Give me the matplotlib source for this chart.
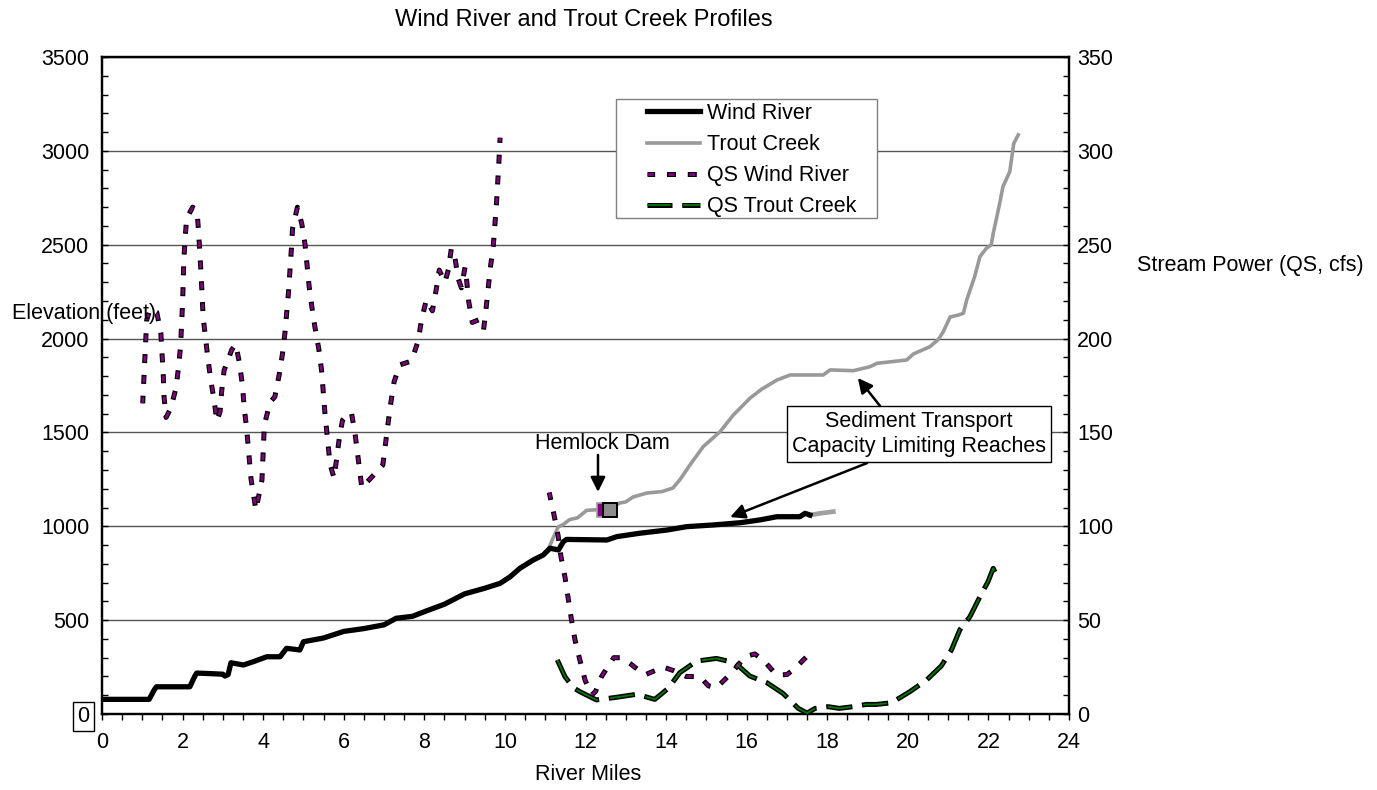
import matplotlib
matplotlib.use("Agg")
import matplotlib.pyplot as plt
from matplotlib.ticker import MultipleLocator
from matplotlib.patches import Rectangle
import numpy as np

plt.rcParams['font.family'] = ['Liberation Sans', 'DejaVu Sans']
plt.rcParams['lines.scale_dashes'] = False

# ---------------- data ----------------
wind_miles = [0, 1.17, 1.3, 1.35, 2.18, 2.3, 2.35, 2.7, 3.0, 3.05, 3.13, 3.2, 3.51, 3.76,
              4.09, 4.42, 4.58, 4.91, 5.0, 5.5, 6.0, 6.5, 7.0, 7.3, 7.7, 8.0, 8.5, 9.0,
              9.5, 9.88, 10.13, 10.37, 10.7, 10.95, 11.12, 11.33, 11.45, 11.53, 12.53,
              12.78, 13.35, 14.02, 14.51, 15.17, 15.84, 16.33, 16.75, 17.32, 17.45, 17.57]
wind_elev = [78, 78, 130, 145, 145, 200, 218, 215, 212, 202, 210, 273, 261, 279,
             305, 305, 350, 341, 385, 405, 440, 455, 475, 510, 520, 545, 585, 640,
             670, 696, 731, 776, 820, 847, 883, 874, 918, 930, 927,
             945, 963, 980, 998, 1007, 1019, 1034, 1051, 1051, 1069, 1060]

wind_ext_miles = [17.57, 17.8, 18.15]
wind_ext_elev = [1060, 1068, 1078]

trout_miles = [11.0, 11.07, 11.2, 11.32, 11.45, 11.6, 11.8, 12.03, 12.6, 12.85, 13.0, 13.18,
               13.52, 13.9, 14.17, 14.35, 14.59, 14.92, 15.34, 15.67, 16.08, 16.37, 16.75,
               17.08, 17.9, 18.07, 18.65, 19.06, 19.23, 19.97, 20.14, 20.55, 20.76, 20.88,
               21.05, 21.25, 21.38, 21.46, 21.66, 21.79, 21.95, 22.07, 22.12, 22.28, 22.36,
               22.53, 22.6, 22.63, 22.74]
trout_elev = [860, 874, 940, 996, 1010, 1035, 1045, 1085, 1092, 1124, 1130, 1156,
              1177, 1185, 1204, 1250, 1326, 1424, 1504, 1593, 1682, 1730, 1779,
              1806, 1806, 1833, 1829, 1850, 1868, 1886, 1918, 1957, 1996, 2037,
              2115, 2125, 2135, 2205, 2331, 2437, 2481, 2499, 2561, 2720, 2809,
              2889, 2996, 3040, 3085]

qs_wind_miles = [1.01, 1.11, 1.2, 1.36, 1.46, 1.52, 1.54, 1.59, 1.71, 1.84, 1.9, 1.95, 2.0,
                 2.03, 2.06, 2.1, 2.25, 2.36, 2.4, 2.46, 2.51, 2.57, 2.63, 2.7, 2.79, 2.85,
                 2.93, 2.97, 3.03, 3.22, 3.32, 3.42, 3.49, 3.53, 3.59, 3.7, 3.82, 3.97, 4.03,
                 4.17, 4.29, 4.4, 4.48, 4.54, 4.63, 4.7, 4.73, 4.85, 4.96, 5.04, 5.14, 5.21,
                 5.29, 5.38, 5.45, 5.53, 5.58, 5.66, 5.76, 5.89, 5.97, 6.1, 6.19, 6.28, 6.45,
                 6.6, 6.97, 7.1, 7.17, 7.25, 7.39, 7.68, 7.85, 7.93, 8.05, 8.2, 8.29, 8.37,
                 8.51, 8.6, 8.67, 8.76, 8.84, 8.92, 9.01, 9.05, 9.1, 9.19, 9.35, 9.47, 9.53,
                 9.64, 9.71, 9.79, 9.85, 9.88,
                 np.nan,
                 11.1, 11.21, 11.32, 11.39, 11.49, 11.57, 11.65, 11.74, 11.86, 11.99, 12.15,
                 12.25, 12.4, 12.7, 12.9, 13.1, 13.47, 13.93, 14.2, 14.5, 14.84, 15.05, 15.25,
                 15.63, 15.96, 16.2, 16.41, 16.74, 17.0, 17.2, 17.57]
qs_wind_vals = [165.5, 210, 216, 214, 203, 181, 169, 158, 163, 174, 185, 196, 219,
                241, 252.5, 264, 270, 267.6, 256, 234, 211.5, 200, 189, 178, 166, 156,
                161, 172, 183, 194, 197, 186, 174, 163, 152, 125, 108.7, 124.7, 154,
                166, 169, 181, 192, 203, 225, 247.6, 258.7, 270, 261, 250, 228, 216.7,
                205.4, 194.6, 183, 161, 150, 133, 125.7, 147, 156.6, 160, 160.5, 149.5, 120.4,
                124, 132.6, 154.8, 166, 177, 186, 188, 199, 210, 220.6, 214.8, 225.5, 236.5,
                230, 237, 248, 243, 232, 227, 238, 231, 220, 208.6, 210, 204.6, 215.6,
                238, 249, 271.7, 293.8, 307,
                np.nan,
                118, 107, 95, 84, 73, 61.6, 50.4, 39.4, 28.8, 18, 10,
                12, 20, 30, 30, 27, 20.8, 25, 23, 20, 19.9, 15, 14,
                22, 30.5, 32, 28.8, 20.8, 21, 24.3, 32.3]

qs_trout_miles = [11.3, 11.49, 11.7, 11.86, 12.27, 12.77, 13.27, 13.72, 14.05, 14.34, 14.76,
                  15.25, 15.71, 16.08, 16.5, 16.9, 17.28, 17.5, 17.7, 18.02, 18.3, 18.64,
                  18.97, 19.22, 19.6, 20.05, 20.46, 20.83, 21.08, 21.29, 21.54, 21.79, 21.99,
                  22.12, 22.2]
qs_trout_vals = [28.8, 19.9, 14, 11.9, 7.5, 8.9, 10.5, 7.8, 13.6, 22, 28.2,
                 29.6, 27.3, 20.2, 16.7, 11, 3, 0.5, 3, 3.9, 3, 3.9,
                 5.1, 5.1, 6, 11.9, 18, 25.6, 34, 44.8, 51.8, 62.5, 70.5,
                 77.6, 74]

dam_wind = (12.46, 1089)
dam_trout = (12.62, 1089)

x_ticks = list(range(0, 25, 2))
elev_ticks = list(range(0, 3501, 500))
qs_ticks = list(range(0, 351, 50))

# ---------------- figure ----------------
W, H = 1377, 790
fig = plt.figure(figsize=(W / 100, H / 100), dpi=100)
ax = fig.add_axes([102 / W, 1 - 714 / H, (1069 - 102) / W, (714 - 57) / H])
ax2 = ax.twinx()

FS = 15.5

ax.set_xlim(0, 24)
ax.set_ylim(0, 3500)
ax2.set_ylim(0, 350)
ax.set_xticks(x_ticks)
ax.set_yticks(elev_ticks)
ax2.set_yticks(qs_ticks)
ax.xaxis.set_minor_locator(MultipleLocator(0.5))
ax.yaxis.set_minor_locator(MultipleLocator(100))
ax2.yaxis.set_minor_locator(MultipleLocator(10))

ax.tick_params(axis='x', which='both', direction='out', length=4, width=1, labelsize=FS, pad=9)
ax.tick_params(axis='y', which='both', direction='in', length=4, width=1, labelsize=FS, pad=9)
ax2.tick_params(axis='y', which='both', direction='in', length=4, width=1, labelsize=FS, pad=6)

for a in (ax, ax2):
    for s in a.spines.values():
        s.set_linewidth(1.6)
        s.set_color('black')

ax.yaxis.grid(True, color='#555555', linewidth=1)
ax.set_axisbelow(True)

ax.yaxis.get_major_ticks()[0].label1.set_bbox(
    dict(boxstyle='square,pad=0.2', fc='none', ec='black', lw=1))

# elevation lines
l_wind, = ax.plot(wind_miles, wind_elev, color='black', lw=3.8, zorder=3)
l_trout, = ax.plot(trout_miles, trout_elev, color='#999999', lw=2.6, zorder=2.5)
ax.plot(wind_ext_miles, wind_ext_elev, color='#a0a0a0', lw=3.4, zorder=2.5)

ax.plot([dam_wind[0]], [dam_wind[1]], marker='s', ms=10, mfc='#8b008b', mec='#a0a0a0', mew=1.2,
        ls='none', zorder=4)
ax.plot([dam_trout[0]], [dam_trout[1]], marker='s', ms=10.5, mfc='#8c8c8c', mec='black', mew=1.4,
        ls='none', zorder=4)

# stream power lines (dashes with black outline)
qw_b, = ax2.plot(qs_wind_miles, qs_wind_vals, color='black', lw=3.6, linestyle=(1, (6.5, 8.5)), zorder=3)
qw_c, = ax2.plot(qs_wind_miles, qs_wind_vals, color='#800080', lw=2.0, linestyle=(0, (4.5, 10.5)), zorder=3.1)
qt_b, = ax2.plot(qs_trout_miles, qs_trout_vals, color='black', lw=3.6, linestyle=(1, (19, 7)), zorder=3)
qt_c, = ax2.plot(qs_trout_miles, qs_trout_vals, color='#007a00', lw=1.3, linestyle=(0, (17, 9)), zorder=3.1)

# legend with custom frame
rect = Rectangle((616 / W, 1 - 218 / H), (877 - 616) / W, (218 - 99) / H, transform=fig.transFigure,
                 fc='white', ec='#808080', lw=1, zorder=4.8)
ax2.add_artist(rect)
leg = ax2.legend([l_wind, l_trout, (qw_b, qw_c), (qt_b, qt_c)],
                 ['Wind River', 'Trout Creek', 'QS Wind River', 'QS Trout Creek'],
                 loc='upper left', bbox_to_anchor=(647 / W, 1 - 103 / H),
                 bbox_transform=fig.transFigure, frameon=False, fontsize=FS,
                 handlelength=2.45, handletextpad=0.33, labelspacing=0.47, borderpad=0,
                 borderaxespad=0)
leg.set_zorder(5)

# annotations
arrow_kw = dict(arrowstyle='-|>', color='black', lw=1.8, mutation_scale=22, shrinkA=0, shrinkB=0)
ax2.text(20.28, 1492, 'Sediment Transport\nCapacity Limiting Reaches', transform=ax.transData,
         ha='center', va='center', fontsize=FS, linespacing=1.25, zorder=6,
         bbox=dict(boxstyle='square,pad=0.25', fc='white', ec='black', lw=1))
ax2.annotate('', xy=(18.76, 1790), xytext=(19.31, 1641), xycoords=ax.transData,
             textcoords=ax.transData, arrowprops=arrow_kw, zorder=6)
ax2.annotate('', xy=(15.59, 1049), xytext=(18.99, 1337), xycoords=ax.transData,
             textcoords=ax.transData, arrowprops=arrow_kw, zorder=6)
ax2.text(12.41, 1440, 'Hemlock Dam', transform=ax.transData, ha='center', va='center',
         fontsize=FS, zorder=6)
ax2.annotate('', xy=(12.31, 1183), xytext=(12.31, 1380), xycoords=ax.transData,
             textcoords=ax.transData, arrowprops=arrow_kw, zorder=6)

# titles / axis labels
fig.text(584 / W, 1 - 20 / H, 'Wind River and Trout Creek Profiles', ha='center', va='center',
         fontsize=17)
fig.text(12 / W, 1 - 314 / H, 'Elevation (feet)', ha='left', va='center', fontsize=FS, zorder=10)
fig.text(1137 / W, 1 - 266 / H, 'Stream Power (QS, cfs)', ha='left', va='center', fontsize=FS)
fig.text(588 / W, 1 - 775 / H, 'River Miles', ha='center', va='center', fontsize=FS)

fig.savefig('out.png', dpi=100)
